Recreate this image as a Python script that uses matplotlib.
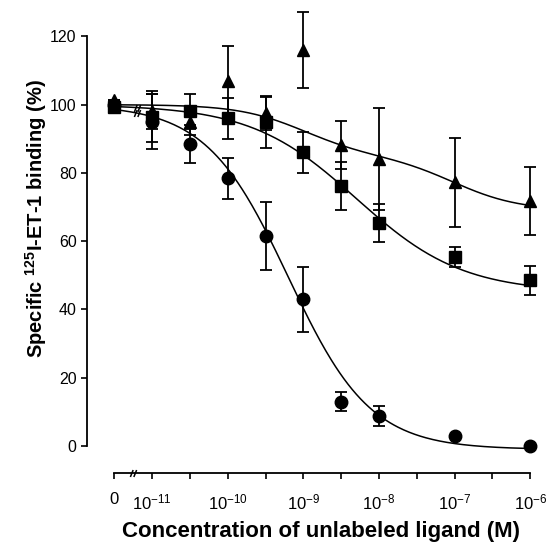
# Competition binding of 125I-ET-1 vs unlabeled ligand concentration
import numpy as np
import matplotlib.pyplot as plt
from matplotlib.path import Path

plt.rcParams['font.family'] = ['Liberation Sans', 'DejaVu Sans']
plt.rcParams['mathtext.default'] = 'regular'

# --- data ---
# log10 molar concentration; -11.5 is where the "0" (no competitor) point sits
log_conc = [-11.5, -11, -10.5, -10, -9.5, -9, -8.5, -8, -7, -6]

circ_y   = [100, 95, 88.5, 78.5, 61.5, 43, 13, 8.8, 3, 0]
circ_err = [0, 8, 5.5, 6, 10, 9.5, 2.7, 3, 0, 0]

sq_y     = [99.2, 96.5, 98, 96, 94.8, 86, 76.2, 65.3, 55.3, 48.5]
sq_err   = [0, 7.5, 5.2, 6, 7.5, 6, 7, 5.5, 3, 4.3]

tri_y    = [101.5, 98, 95, 107, 97.5, 116, 88.2, 84, 77.3, 71.7]
tri_err  = [0, 5, 4, 10.3, 5, 11, 7, 15, 13, 10]

# fitted curve parameters
circ_fit = dict(top=100, bottom=-1, logic50=-9.2, hill=0.8)
sq_fit   = dict(top=100, bottom=45, logic50=-8.3, hill=0.62)
tri_fit  = dict(top=100, drop1=15, logic1=-9.0, drop2=16, logic2=-7.0)   # two-site

tick_pos    = [-11.5, -11, -10, -9, -8, -7, -6]
tick_labels = ["0", "$10^{-11}$", "$10^{-10}$", "$10^{-9}$", "$10^{-8}$", "$10^{-7}$", "$10^{-6}$"]
minor_pos   = [-10.5, -9.5, -8.5, -7.5, -6.5]


def hill(x, top, bottom, logic50, hill):
    return bottom + (top - bottom) / (1 + 10 ** ((x - logic50) * hill))


def two_site(x, top, drop1, logic1, drop2, logic2):
    return (top - drop1 * (1 - 1 / (1 + 10 ** (x - logic1)))
                - drop2 * (1 - 1 / (1 + 10 ** (x - logic2))))


# "//" break marker
brk = Path([(-0.9, -1), (-0.1, 1), (0.1, -1), (0.9, 1)],
           [Path.MOVETO, Path.LINETO, Path.MOVETO, Path.LINETO])

xs = np.linspace(-11.5, -6, 300)

fig = plt.figure(figsize=(5.55, 5.5), dpi=100)
ax = fig.add_axes([0.157, 0.14, 0.812, 0.856])

ax.plot(xs, hill(xs, **circ_fit), color="k", lw=1.1)
ax.plot(xs, hill(xs, **sq_fit), color="k", lw=1.1)
ax.plot(xs, two_site(xs, **tri_fit), color="k", lw=1.1)

eb = dict(fmt="none", ecolor="k", elinewidth=1.3, capsize=4.5, capthick=1.3, clip_on=False)
ax.errorbar(log_conc, circ_y, yerr=circ_err, **eb)
ax.errorbar(log_conc, sq_y, yerr=sq_err, **eb)
ax.errorbar(log_conc, tri_y, yerr=tri_err, **eb)

ax.plot(log_conc, circ_y, "o", color="k", ms=9, clip_on=False)
ax.plot(log_conc, sq_y, "s", color="k", ms=8, clip_on=False)
ax.plot(log_conc, tri_y, "^", color="k", ms=8.5, clip_on=False)

# axis break marks between 0 and 10^-11
xb = -11.2
ax.plot([xb, xb], [hill(xb, **circ_fit), hill(xb, **sq_fit)], ls="none",
        marker=brk, ms=5, mew=1.1, color="k")
ax.plot([-11.25], [0], ls="none", marker=brk, ms=5, mew=1.1, color="k",
        transform=ax.get_xaxis_transform(), clip_on=False)

ax.set_xlim(-11.86, -5.9)
ax.set_ylim(-7.9, 130)
for s in ("top", "right"):
    ax.spines[s].set_visible(False)
ax.spines["left"].set_bounds(0, 120)
ax.spines["bottom"].set_bounds(-11.5, -6)
ax.spines["left"].set_linewidth(1.3)
ax.spines["bottom"].set_linewidth(1.3)

ax.set_yticks(np.arange(0, 121, 20))
ax.set_xticks(tick_pos)
ax.set_xticklabels(tick_labels)
ax.set_xticks(minor_pos, minor=True)
ax.tick_params(axis="both", which="both", direction="out", length=4, width=1.2)
ax.tick_params(axis="y", labelsize=11.5)
ax.tick_params(axis="x", labelsize=12, pad=10)

ax.set_xlabel("Concentration of unlabeled ligand (M)", fontsize=16, fontweight="bold", labelpad=6)
ax.xaxis.label.set_x(0.518)
ax.set_ylabel("Specific $^{125}$I-ET-1 binding (%)", fontsize=14.5, fontweight="bold")
ax.yaxis.set_label_coords(-0.085, 0.54)

fig.savefig("out.png", dpi=100)
